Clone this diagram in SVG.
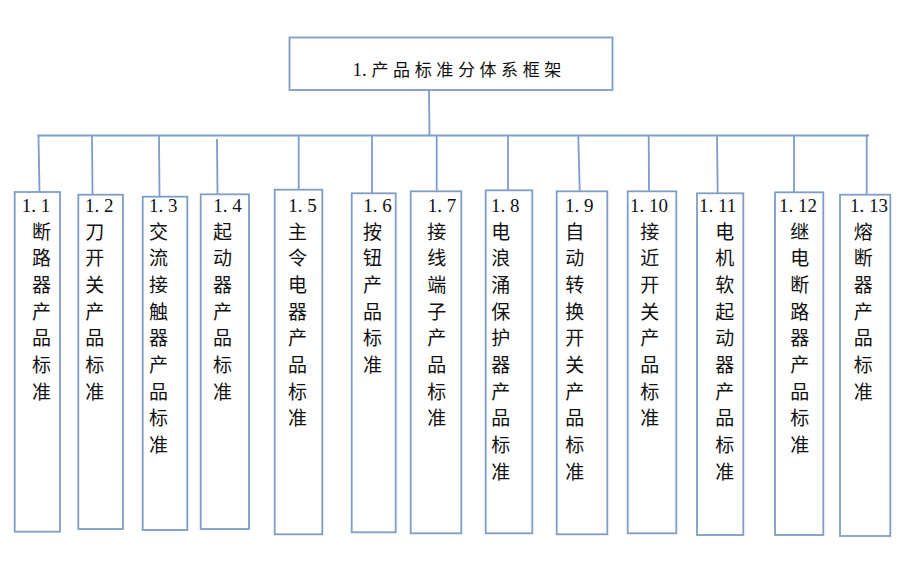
<svg xmlns="http://www.w3.org/2000/svg" width="919" height="570" viewBox="0 0 919 570">
<style>
.box{fill:#ffffff;stroke:#7f9dc6;stroke-width:1.8}
.ln{fill:none;stroke:#7f9dc6;stroke-width:1.8}
.num{font-family:"Liberation Serif","Noto Sans CJK SC",serif;font-size:19px;fill:#111}
.cj{font-family:"Noto Sans CJK SC",sans-serif;font-size:19px;fill:#111;text-anchor:middle}
.title{font-family:"Noto Sans CJK SC",sans-serif;font-size:17px;fill:#111;letter-spacing:4.6px}
</style>
<rect width="919" height="570" fill="#ffffff"/>
<g id="connectors">
<line class="ln" x1="429" y1="90" x2="429.5" y2="135.5"/>
<line class="ln" x1="37.5" y1="135.5" x2="869" y2="135.5"/>
<line class="ln" x1="38.5" y1="135.5" x2="39.5" y2="192"/>
<line class="ln" x1="92" y1="135.5" x2="92.5" y2="194.7"/>
<line class="ln" x1="159" y1="135.5" x2="159.5" y2="196.7"/>
<line class="ln" x1="217" y1="139" x2="217.5" y2="194.3"/>
<line class="ln" x1="298.7" y1="135.5" x2="298.7" y2="189.7"/>
<line class="ln" x1="372" y1="135.5" x2="372" y2="193.3"/>
<line class="ln" x1="436.7" y1="135.5" x2="436.7" y2="191.3"/>
<line class="ln" x1="508" y1="135.5" x2="508" y2="190.3"/>
<line class="ln" x1="578.3" y1="135.5" x2="579.7" y2="191.3"/>
<line class="ln" x1="648.7" y1="135.5" x2="649" y2="191.3"/>
<line class="ln" x1="717" y1="135.5" x2="717.7" y2="193.3"/>
<line class="ln" x1="794" y1="135.5" x2="794" y2="192.3"/>
<line class="ln" x1="866.7" y1="135.5" x2="866.7" y2="194.7"/>
</g>
<g id="root">
<rect class="box" x="289.5" y="37.5" width="323" height="52.5"/>
<text class="title" x="352.5" y="76"><tspan font-family="Liberation Serif,serif" font-size="19px" letter-spacing="0">1. </tspan>产品标准分体系框架</text>
</g>
<g id="n1-1">
<rect class="box" x="14.7" y="192" width="45.3" height="339.7"/>
<text class="num" x="21.7" y="211.7">1. 1</text>
<text class="cj" y="238.5"><tspan x="41.5">断</tspan><tspan x="41.5" dy="26.7">路</tspan><tspan x="41.5" dy="26.7">器</tspan><tspan x="41.5" dy="26.7">产</tspan><tspan x="41.5" dy="26.7">品</tspan><tspan x="41.5" dy="26.7">标</tspan><tspan x="41.5" dy="26.7">准</tspan></text>
</g>
<g id="n1-2">
<rect class="box" x="78.3" y="194.7" width="44.7" height="334.3"/>
<text class="num" x="85" y="211.7">1. 2</text>
<text class="cj" y="238.5"><tspan x="94.7">刀</tspan><tspan x="94.7" dy="26.7">开</tspan><tspan x="94.7" dy="26.7">关</tspan><tspan x="94.7" dy="26.7">产</tspan><tspan x="94.7" dy="26.7">品</tspan><tspan x="94.7" dy="26.7">标</tspan><tspan x="94.7" dy="26.7">准</tspan></text>
</g>
<g id="n1-3">
<rect class="box" x="142.7" y="196.7" width="44.6" height="333.3"/>
<text class="num" x="149" y="211.7">1. 3</text>
<text class="cj" y="238.5"><tspan x="158.5">交</tspan><tspan x="158.5" dy="26.7">流</tspan><tspan x="158.5" dy="26.7">接</tspan><tspan x="158.5" dy="26.7">触</tspan><tspan x="158.5" dy="26.7">器</tspan><tspan x="158.5" dy="26.7">产</tspan><tspan x="158.5" dy="26.7">品</tspan><tspan x="158.5" dy="26.7">标</tspan><tspan x="158.5" dy="26.7">准</tspan></text>
</g>
<g id="n1-4">
<rect class="box" x="200.7" y="194.3" width="48.3" height="334.7"/>
<text class="num" x="213.3" y="211.7">1. 4</text>
<text class="cj" y="238.5"><tspan x="222.5">起</tspan><tspan x="222.5" dy="26.7">动</tspan><tspan x="222.5" dy="26.7">器</tspan><tspan x="222.5" dy="26.7">产</tspan><tspan x="222.5" dy="26.7">品</tspan><tspan x="222.5" dy="26.7">标</tspan><tspan x="222.5" dy="26.7">准</tspan></text>
</g>
<g id="n1-5">
<rect class="box" x="274.7" y="189.7" width="47.6" height="344.6"/>
<text class="num" x="288.3" y="211.7">1. 5</text>
<text class="cj" y="238.5"><tspan x="297.5">主</tspan><tspan x="297.5" dy="26.7">令</tspan><tspan x="297.5" dy="26.7">电</tspan><tspan x="297.5" dy="26.7">器</tspan><tspan x="297.5" dy="26.7">产</tspan><tspan x="297.5" dy="26.7">品</tspan><tspan x="297.5" dy="26.7">标</tspan><tspan x="297.5" dy="26.7">准</tspan></text>
</g>
<g id="n1-6">
<rect class="box" x="351.7" y="193.3" width="44" height="339"/>
<text class="num" x="363.3" y="211.7">1. 6</text>
<text class="cj" y="238.5"><tspan x="372.5">按</tspan><tspan x="372.5" dy="26.7">钮</tspan><tspan x="372.5" dy="26.7">产</tspan><tspan x="372.5" dy="26.7">品</tspan><tspan x="372.5" dy="26.7">标</tspan><tspan x="372.5" dy="26.7">准</tspan></text>
</g>
<g id="n1-7">
<rect class="box" x="410.7" y="191.3" width="50.6" height="342"/>
<text class="num" x="427.7" y="211.7">1. 7</text>
<text class="cj" y="238.5"><tspan x="436.8">接</tspan><tspan x="436.8" dy="26.7">线</tspan><tspan x="436.8" dy="26.7">端</tspan><tspan x="436.8" dy="26.7">子</tspan><tspan x="436.8" dy="26.7">产</tspan><tspan x="436.8" dy="26.7">品</tspan><tspan x="436.8" dy="26.7">标</tspan><tspan x="436.8" dy="26.7">准</tspan></text>
</g>
<g id="n1-8">
<rect class="box" x="485.7" y="190.3" width="46.6" height="343"/>
<text class="num" x="491" y="211.7">1. 8</text>
<text class="cj" y="238.5"><tspan x="500.8">电</tspan><tspan x="500.8" dy="26.7">浪</tspan><tspan x="500.8" dy="26.7">涌</tspan><tspan x="500.8" dy="26.7">保</tspan><tspan x="500.8" dy="26.7">护</tspan><tspan x="500.8" dy="26.7">器</tspan><tspan x="500.8" dy="26.7">产</tspan><tspan x="500.8" dy="26.7">品</tspan><tspan x="500.8" dy="26.7">标</tspan><tspan x="500.8" dy="26.7">准</tspan></text>
</g>
<g id="n1-9">
<rect class="box" x="556.7" y="191.3" width="50.6" height="343"/>
<text class="num" x="565" y="211.7">1. 9</text>
<text class="cj" y="238.5"><tspan x="574.8">自</tspan><tspan x="574.8" dy="26.7">动</tspan><tspan x="574.8" dy="26.7">转</tspan><tspan x="574.8" dy="26.7">换</tspan><tspan x="574.8" dy="26.7">开</tspan><tspan x="574.8" dy="26.7">关</tspan><tspan x="574.8" dy="26.7">产</tspan><tspan x="574.8" dy="26.7">品</tspan><tspan x="574.8" dy="26.7">标</tspan><tspan x="574.8" dy="26.7">准</tspan></text>
</g>
<g id="n1-10">
<rect class="box" x="627.7" y="191.3" width="48.6" height="342"/>
<text class="num" x="630" y="211.7">1. 10</text>
<text class="cj" y="238.5"><tspan x="649.8">接</tspan><tspan x="649.8" dy="26.7">近</tspan><tspan x="649.8" dy="26.7">开</tspan><tspan x="649.8" dy="26.7">关</tspan><tspan x="649.8" dy="26.7">产</tspan><tspan x="649.8" dy="26.7">品</tspan><tspan x="649.8" dy="26.7">标</tspan><tspan x="649.8" dy="26.7">准</tspan></text>
</g>
<g id="n1-11">
<rect class="box" x="697" y="193.3" width="46.3" height="341.7"/>
<text class="num" x="699" y="211.7">1. 11</text>
<text class="cj" y="238.5"><tspan x="724.8">电</tspan><tspan x="724.8" dy="26.7">机</tspan><tspan x="724.8" dy="26.7">软</tspan><tspan x="724.8" dy="26.7">起</tspan><tspan x="724.8" dy="26.7">动</tspan><tspan x="724.8" dy="26.7">器</tspan><tspan x="724.8" dy="26.7">产</tspan><tspan x="724.8" dy="26.7">品</tspan><tspan x="724.8" dy="26.7">标</tspan><tspan x="724.8" dy="26.7">准</tspan></text>
</g>
<g id="n1-12">
<rect class="box" x="775" y="192.3" width="48.3" height="342.7"/>
<text class="num" x="779" y="211.7">1. 12</text>
<text class="cj" y="238.5"><tspan x="799.8">继</tspan><tspan x="799.8" dy="26.7">电</tspan><tspan x="799.8" dy="26.7">断</tspan><tspan x="799.8" dy="26.7">路</tspan><tspan x="799.8" dy="26.7">器</tspan><tspan x="799.8" dy="26.7">产</tspan><tspan x="799.8" dy="26.7">品</tspan><tspan x="799.8" dy="26.7">标</tspan><tspan x="799.8" dy="26.7">准</tspan></text>
</g>
<g id="n1-13">
<rect class="box" x="840" y="194.7" width="50.3" height="341.3"/>
<text class="num" x="850" y="211.7">1. 13</text>
<text class="cj" y="238.5"><tspan x="863.2">熔</tspan><tspan x="863.2" dy="26.7">断</tspan><tspan x="863.2" dy="26.7">器</tspan><tspan x="863.2" dy="26.7">产</tspan><tspan x="863.2" dy="26.7">品</tspan><tspan x="863.2" dy="26.7">标</tspan><tspan x="863.2" dy="26.7">准</tspan></text>
</g>
</svg>
